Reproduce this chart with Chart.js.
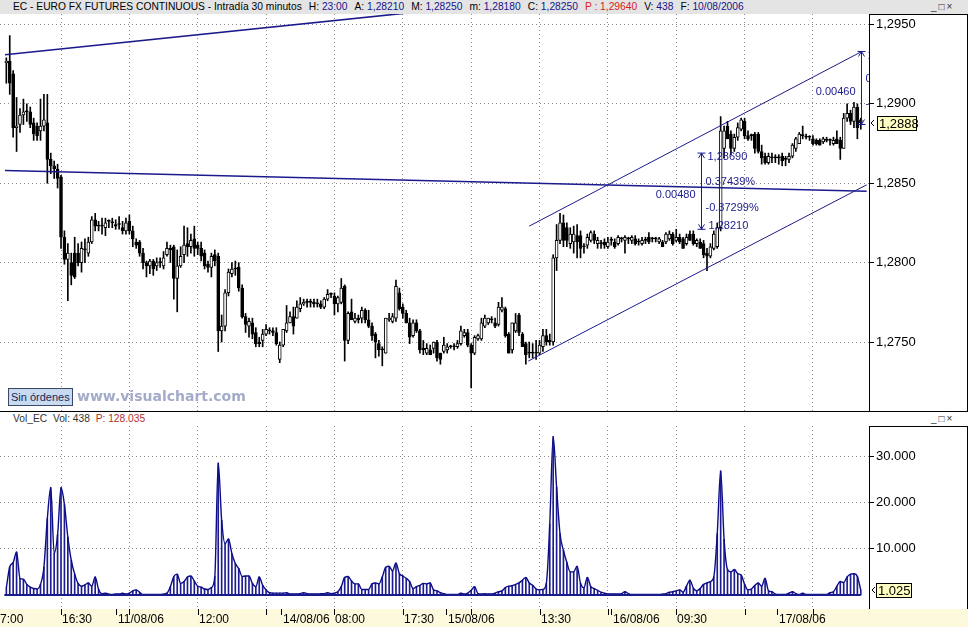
<!DOCTYPE html>
<html>
<head>
<meta charset="utf-8">
<title>EC - Euro FX Futures Continuous</title>
<script src="https://cdn.jsdelivr.net/npm/chart.js@4.4.1/dist/chart.umd.min.js"></script>
<style>
  body { margin: 0; background: #fff; font-family: "Liberation Sans", Arial, sans-serif; }
  #page { position: relative; width: 968px; height: 627px; overflow: hidden; background: #fff; }
  .abs { position: absolute; }
  #header { left: 0; top: 0; width: 955px; height: 14px; padding-left: 13px; background: #e4e4e4; font-size: 10.25px; line-height: 14px; white-space: nowrap; color: #000; }
  #header .g { margin-left: 7px; }
  #header b, #volHeader b { font-weight: normal; color: #14148c; }
  .red { color: #d41c1c; }
  .ctl { position: absolute; top: 0; font-size: 10px; color: #333; letter-spacing: 2px; }
  #priceBox { left: 0; top: 14px; width: 968px; height: 397px; }
  #volBox { left: 0; top: 426px; width: 968px; height: 201px; }
  #volHeader { left: 0; top: 412px; width: 955px; height: 14px; padding-left: 13px; font-size: 10.25px; line-height: 13px; color: #333; white-space: nowrap; }
  .line { background: #000; }
  #orders { left: 8px; top: 388px; height: 16px; padding: 0 2px; border: 1px solid #3a4868; background: #c8daf0; color: #18285a; font-size: 11px; line-height: 16px; }
  #brand { left: 77px; top: 387px; font-family: "DejaVu Sans", Verdana, sans-serif; font-weight: bold; font-size: 14px; color: #a3abc9; line-height: 18px; }
</style>
</head>
<body>
<div id="page">
  <div id="header" class="abs">
    <span>EC - EURO FX FUTURES CONTINUOUS - Intradía 30 minutos</span><span class="g">H: <b>23:00</b></span><span class="g">A: <b>1,28210</b></span><span class="g">M: <b>1,28250</b></span><span class="g">m: <b>1,28180</b></span><span class="g">C: <b>1,28250</b></span><span class="g red">P : 1,29640</span><span class="g">V: <b>438</b></span><span class="g">F: <b>10/08/2006</b></span>
    <span class="ctl" style="left:931px">_□×</span>
  </div>

  <div id="priceBox" class="abs"><canvas id="priceChart" width="968" height="397"></canvas></div>
  <div class="abs line" style="left:869px;top:14px;width:99px;height:1px"></div>
  <div class="abs line" style="left:967px;top:14px;width:1px;height:397px"></div>
  <div class="abs line" style="left:0;top:411px;width:968px;height:1px"></div>
  <div id="orders" class="abs">Sin órdenes</div>
  <div id="brand" class="abs">www.visualchart.com</div>

  <div id="volHeader" class="abs">
    <span>Vol_EC&nbsp; Vol: 438&nbsp; <span class="red" style="color:#b03030">P: 128.035</span></span>
    <span class="ctl" style="left:931px">_□×</span>
  </div>
  <div id="volBox" class="abs"><canvas id="volumeChart" width="968" height="201"></canvas></div>
  <div class="abs line" style="left:869px;top:426px;width:99px;height:1px"></div>
  <div class="abs line" style="left:967px;top:426px;width:1px;height:183px"></div>
</div>

<script>
// EC Euro FX futures, 30 minute bars, 10/08/06 - 17/08/06
const open = [
  1.2926,1.2927,1.2919,1.2885,1.2887,1.2893,1.2895,1.2895,1.2888,1.2886,
  1.2883,1.2886,1.2888,1.2865,1.2861,1.2859,1.2854,1.2816,1.2802,1.2800,
  1.2806,1.2806,1.2800,1.2808,1.2806,1.2813,1.2827,1.2823,1.2823,1.2822,
  1.2826,1.2825,1.2824,1.2824,1.2822,1.2820,1.2826,1.2820,1.2813,1.2813,
  1.2806,1.2800,1.2798,1.2801,1.2798,1.2800,1.2798,1.2805,1.2809,1.2810,
  1.2790,1.2798,1.2805,1.2812,1.2810,1.2815,1.2811,1.2809,1.2806,1.2799,
  1.2797,1.2805,1.2804,1.2757,1.2760,1.2781,1.2793,1.2796,1.2797,1.2784,
  1.2766,1.2760,1.2762,1.2756,1.2750,1.2751,1.2755,1.2757,1.2757,1.2756,
  1.2739,1.2748,1.2757,1.2762,1.2766,1.2765,1.2771,1.2774,1.2775,1.2775,
  1.2775,1.2774,1.2774,1.2772,1.2777,1.2780,1.2779,1.2774,1.2775,1.2785,
  1.2751,1.2769,1.2763,1.2765,1.2765,1.2770,1.2764,1.2760,1.2755,1.2749,
  1.2745,1.2743,1.2764,1.2763,1.2765,1.2781,1.2772,1.2768,1.2762,1.2754,
  1.2762,1.2757,1.2746,1.2743,1.2745,1.2746,1.2750,1.2743,1.2744,1.2745,
  1.2747,1.2747,1.2747,1.2749,1.2754,1.2756,1.2748,1.2743,1.2752,1.2752,
  1.2760,1.2762,1.2764,1.2762,1.2761,1.2770,1.2771,1.2755,1.2745,1.2757,
  1.2767,1.2755,1.2749,1.2743,1.2743,1.2743,1.2743,1.2747,1.2754,1.2751,
  1.2750,1.2803,1.2814,1.2825,1.2822,1.2812,1.2813,1.2817,1.2817,1.2810,
  1.2811,1.2814,1.2818,1.2812,1.2812,1.2813,1.2810,1.2814,1.2813,1.2812,
  1.2815,1.2814,1.2815,1.2814,1.2815,1.2813,1.2812,1.2814,1.2816,1.2815,
  1.2815,1.2813,1.2813,1.2813,1.2815,1.2818,1.2814,1.2816,1.2815,1.2812,
  1.2818,1.2818,1.2812,1.2813,1.2812,1.2806,1.2804,1.2809,1.2810,1.2822,
  1.2872,1.2886,1.2881,1.2872,1.2879,1.2884,1.2889,1.2880,1.2880,1.2881,
  1.2881,1.2870,1.2867,1.2863,1.2866,1.2866,1.2866,1.2867,1.2865,1.2865,
  1.2867,1.2872,1.2875,1.2880,1.2879,1.2879,1.2878,1.2877,1.2877,1.2876,
  1.2877,1.2877,1.2875,1.2878,1.2877,1.2872,1.2891,1.2894,1.2889,1.2898,
  1.2890
];
const high = [
  1.2929,1.2943,1.2921,1.2904,1.2897,1.2903,1.2900,1.2898,1.2891,1.2888,
  1.2903,1.2906,1.2906,1.2869,1.2864,1.2862,1.2855,1.2820,1.2812,1.2806,
  1.2816,1.2812,1.2813,1.2815,1.2816,1.2829,1.2831,1.2826,1.2828,1.2828,
  1.2827,1.2828,1.2827,1.2829,1.2826,1.2828,1.2830,1.2823,1.2815,1.2814,
  1.2809,1.2801,1.2802,1.2802,1.2803,1.2803,1.2807,1.2813,1.2811,1.2811,
  1.2808,1.2810,1.2823,1.2822,1.2818,1.2823,1.2813,1.2813,1.2808,1.2801,
  1.2806,1.2808,1.2806,1.2767,1.2783,1.2796,1.2800,1.2801,1.2800,1.2786,
  1.2768,1.2765,1.2765,1.2759,1.2753,1.2758,1.2761,1.2759,1.2759,1.2759,
  1.2750,1.2758,1.2773,1.2769,1.2772,1.2776,1.2778,1.2777,1.2777,1.2777,
  1.2777,1.2777,1.2776,1.2778,1.2783,1.2781,1.2781,1.2779,1.2790,1.2786,
  1.2769,1.2777,1.2768,1.2767,1.2772,1.2771,1.2770,1.2762,1.2756,1.2751,
  1.2747,1.2765,1.2768,1.2768,1.2789,1.2784,1.2774,1.2770,1.2765,1.2764,
  1.2764,1.2758,1.2751,1.2749,1.2748,1.2750,1.2751,1.2743,1.2753,1.2749,
  1.2748,1.2749,1.2751,1.2760,1.2758,1.2758,1.2749,1.2754,1.2755,1.2765,
  1.2767,1.2765,1.2766,1.2765,1.2775,1.2778,1.2772,1.2756,1.2762,1.2768,
  1.2768,1.2756,1.2750,1.2750,1.2749,1.2751,1.2751,1.2758,1.2758,1.2755,
  1.2805,1.2824,1.2831,1.2830,1.2825,1.2822,1.2823,1.2824,1.2820,1.2812,
  1.2818,1.2820,1.2820,1.2816,1.2814,1.2815,1.2816,1.2816,1.2815,1.2817,
  1.2816,1.2817,1.2816,1.2817,1.2817,1.2815,1.2816,1.2816,1.2819,1.2816,
  1.2816,1.2816,1.2814,1.2819,1.2820,1.2819,1.2821,1.2818,1.2816,1.2818,
  1.2820,1.2820,1.2815,1.2815,1.2814,1.2809,1.2812,1.2820,1.2825,1.2892,
  1.2886,1.2889,1.2883,1.2881,1.2888,1.2891,1.2891,1.2883,1.2881,1.2882,
  1.2882,1.2874,1.2869,1.2869,1.2869,1.2868,1.2868,1.2869,1.2867,1.2869,
  1.2875,1.2879,1.2882,1.2886,1.2881,1.2880,1.2880,1.2878,1.2878,1.2879,
  1.2879,1.2878,1.2879,1.2883,1.2879,1.2894,1.2900,1.2896,1.2901,1.2900,
  1.2891
];
const low = [
  1.2913,1.2906,1.2879,1.2870,1.2882,1.2887,1.2889,1.2885,1.2877,1.2877,
  1.2877,1.2883,1.2850,1.2856,1.2853,1.2847,1.2809,1.2799,1.2776,1.2786,
  1.2790,1.2798,1.2794,1.2800,1.2804,1.2812,1.2820,1.2820,1.2818,1.2817,
  1.2822,1.2822,1.2821,1.2821,1.2818,1.2818,1.2818,1.2810,1.2809,1.2804,
  1.2796,1.2791,1.2793,1.2792,1.2795,1.2797,1.2796,1.2804,1.2800,1.2777,
  1.2769,1.2797,1.2800,1.2804,1.2806,1.2804,1.2805,1.2801,1.2796,1.2794,
  1.2791,1.2798,1.2744,1.2750,1.2757,1.2779,1.2791,1.2792,1.2782,1.2765,
  1.2756,1.2753,1.2752,1.2747,1.2747,1.2747,1.2754,1.2755,1.2754,1.2748,
  1.2737,1.2747,1.2756,1.2762,1.2755,1.2765,1.2769,1.2773,1.2772,1.2772,
  1.2772,1.2772,1.2771,1.2771,1.2776,1.2778,1.2767,1.2769,1.2774,1.2738,
  1.2749,1.2764,1.2762,1.2762,1.2762,1.2762,1.2759,1.2751,1.2740,1.2741,
  1.2735,1.2743,1.2763,1.2762,1.2763,1.2770,1.2765,1.2762,1.2749,1.2753,
  1.2756,1.2743,1.2742,1.2742,1.2742,1.2743,1.2738,1.2736,1.2743,1.2743,
  1.2746,1.2745,1.2746,1.2748,1.2753,1.2747,1.2721,1.2742,1.2751,1.2751,
  1.2759,1.2761,1.2762,1.2759,1.2760,1.2769,1.2753,1.2743,1.2743,1.2756,
  1.2754,1.2747,1.2736,1.2740,1.2740,1.2739,1.2742,1.2744,1.2748,1.2748,
  1.2748,1.2795,1.2812,1.2810,1.2810,1.2809,1.2806,1.2803,1.2803,1.2806,
  1.2809,1.2813,1.2812,1.2809,1.2809,1.2809,1.2809,1.2811,1.2809,1.2811,
  1.2813,1.2806,1.2812,1.2812,1.2811,1.2811,1.2811,1.2812,1.2812,1.2813,
  1.2813,1.2812,1.2810,1.2812,1.2814,1.2811,1.2813,1.2812,1.2809,1.2811,
  1.2814,1.2811,1.2810,1.2809,1.2803,1.2795,1.2803,1.2808,1.2809,1.2820,
  1.2866,1.2878,1.2868,1.2870,1.2877,1.2883,1.2878,1.2877,1.2877,1.2869,
  1.2869,1.2862,1.2862,1.2862,1.2863,1.2863,1.2862,1.2861,1.2861,1.2863,
  1.2866,1.2870,1.2875,1.2878,1.2878,1.2877,1.2874,1.2874,1.2874,1.2875,
  1.2876,1.2874,1.2874,1.2875,1.2865,1.2872,1.2889,1.2887,1.2885,1.2878,
  1.2884
];
const close = [
  1.2927,1.2913,1.2885,1.2886,1.2893,1.2895,1.2895,1.2887,1.2881,1.2880,
  1.2886,1.2890,1.2865,1.2861,1.2859,1.2853,1.2816,1.2802,1.2806,1.2792,
  1.2791,1.2800,1.2809,1.2808,1.2813,1.2827,1.2823,1.2823,1.2823,1.2825,
  1.2826,1.2825,1.2823,1.2824,1.2820,1.2825,1.2820,1.2815,1.2811,1.2806,
  1.2800,1.2798,1.2801,1.2796,1.2800,1.2800,1.2803,1.2809,1.2808,1.2790,
  1.2798,1.2804,1.2811,1.2810,1.2814,1.2809,1.2809,1.2804,1.2798,1.2797,
  1.2804,1.2801,1.2757,1.2760,1.2781,1.2794,1.2796,1.2796,1.2784,1.2766,
  1.2761,1.2763,1.2755,1.2749,1.2749,1.2755,1.2758,1.2757,1.2756,1.2749,
  1.2748,1.2758,1.2762,1.2766,1.2760,1.2772,1.2774,1.2775,1.2775,1.2775,
  1.2774,1.2774,1.2772,1.2777,1.2780,1.2780,1.2774,1.2778,1.2784,1.2751,
  1.2768,1.2764,1.2765,1.2764,1.2770,1.2764,1.2760,1.2754,1.2750,1.2745,
  1.2745,1.2765,1.2765,1.2766,1.2785,1.2771,1.2768,1.2762,1.2753,1.2762,
  1.2757,1.2745,1.2745,1.2746,1.2742,1.2750,1.2740,1.2739,1.2748,1.2747,
  1.2747,1.2747,1.2749,1.2757,1.2756,1.2748,1.2743,1.2753,1.2754,1.2762,
  1.2765,1.2765,1.2764,1.2760,1.2772,1.2772,1.2754,1.2743,1.2762,1.2762,
  1.2756,1.2747,1.2742,1.2743,1.2743,1.2743,1.2748,1.2754,1.2750,1.2750,
  1.2803,1.2814,1.2825,1.2814,1.2814,1.2818,1.2818,1.2813,1.2809,1.2810,
  1.2816,1.2819,1.2814,1.2814,1.2812,1.2811,1.2813,1.2814,1.2810,1.2816,
  1.2815,1.2816,1.2815,1.2816,1.2812,1.2813,1.2814,1.2814,1.2813,1.2815,
  1.2815,1.2815,1.2810,1.2818,1.2818,1.2812,1.2816,1.2813,1.2809,1.2816,
  1.2814,1.2812,1.2814,1.2809,1.2805,1.2804,1.2810,1.2818,1.2822,1.2883,
  1.2883,1.2878,1.2872,1.2879,1.2885,1.2890,1.2880,1.2878,1.2880,1.2872,
  1.2870,1.2866,1.2863,1.2867,1.2866,1.2866,1.2866,1.2864,1.2865,1.2867,
  1.2874,1.2878,1.2881,1.2880,1.2879,1.2879,1.2875,1.2875,1.2874,1.2878,
  1.2877,1.2877,1.2877,1.2875,1.2872,1.2891,1.2894,1.2889,1.2898,1.2885,
  1.2888
];
const volume = [
  1500,6100,7000,9300,3600,3400,2300,1700,1400,1300,
  2300,6000,16500,23200,9000,13000,23200,19500,12500,7500,
  4500,2500,1900,2200,2600,1900,3900,1200,300,400,
  200,100,200,200,400,200,400,900,1100,600,
  100,100,100,100,100,100,200,400,1800,4000,
  4500,2500,2900,3900,4100,3000,1900,1700,1300,1200,
  1600,4000,28500,16100,11100,12100,8900,6800,5700,4000,
  4100,4100,2500,1800,3900,2100,1100,500,400,400,
  400,400,500,200,200,200,300,500,300,200,
  200,200,300,300,500,300,400,700,1800,3800,
  4000,3000,2400,2400,1200,1200,1200,2400,2600,2400,
  3900,6000,6200,5200,6900,4600,4100,3600,2900,1400,
  1800,2100,2500,2400,2600,1100,900,500,300,100,
  100,100,100,400,200,400,1000,1800,300,200,
  300,200,200,400,700,900,1600,1900,2000,2300,
  2600,3200,3800,2600,2100,1300,1100,1200,2500,15300,
  34200,23200,13200,9600,7000,5000,5000,6200,2500,1600,
  3800,1800,1400,1000,600,400,200,200,200,200,
  300,700,300,100,100,100,100,100,100,100,
  100,100,200,300,600,700,900,1100,600,1900,
  3200,1500,900,1400,2300,2600,2900,3900,13200,26800,
  12000,5500,5000,5500,4600,4300,2300,1100,1300,2100,
  2600,1900,3600,900,700,200,100,100,100,400,
  700,300,100,400,100,100,100,100,100,100,
  100,500,700,1900,2900,2700,3900,4500,4600,4000,
  1025
];

// axis ticks and labels
const gridBars = [16, 36, 56, 76, 96, 116, 136, 156, 176, 196, 216, 236];
const priceTicks = [1.275, 1.28, 1.285, 1.29, 1.295];
const volumeTicks = [10000, 20000, 30000];
const timeLabels = ['16:30', '12:00', '08:00', '17:30', '13:30', '09:30'];
const timeBars = [16, 56, 96, 116, 156, 196];
const dayLabels = ['11/08/06', '14/08/06', '15/08/06', '16/08/06', '17/08/06'];
const dayBars = [32, 80.5, 128.5, 177, 225.5];
const firstLabel = '7:00';

// drawn trend lines (bar index, price)
const trendTop = [{x: -0.4, y: 1.2931}, {x: 116.1, y: 1.2957}];
const trendFlat = [{x: -0.4, y: 1.2858}, {x: 251.7, y: 1.2845}];
const channelUpper = [{x: 153, y: 1.2823}, {x: 250.3, y: 1.2933}];
const channelLower = [{x: 152.7, y: 1.2738}, {x: 251.7, y: 1.2849}];

// measuring tool
const measureBar = [203.3, 250];
const measureFrom = [1.2821, 1.2887];
const measureTo = [1.2869, 1.2933];

const xMin = -1.85, xMax = 252.4;
const navy = '#1a1a8c';
const gridColor = '#8c8c8c';
const fontFamily = "'Liberation Sans', Arial, sans-serif";
Chart.defaults.font.family = fontFamily;

const last = close.length - 1;

// price overlay: measuring arrows and last price tag
const priceOverlay = {
  id: 'priceOverlay',
  afterDatasetsDraw(chart) {
    const {ctx, chartArea: a, scales: {x, y}} = chart;
    ctx.save();
    ctx.beginPath();
    ctx.rect(a.left, a.top, a.right - a.left, a.bottom - a.top);
    ctx.clip();
    ctx.strokeStyle = navy;
    ctx.fillStyle = navy;
    ctx.lineWidth = 1;
    ctx.font = '11px ' + fontFamily;
    ctx.textBaseline = 'middle';
    measureBar.forEach((bar, k) => {
      const px = Math.round(x.getPixelForValue(bar)) + 0.5;
      const yTop = y.getPixelForValue(measureTo[k]);
      const yBot = y.getPixelForValue(measureFrom[k]);
      const span = yBot - yTop;
      ctx.beginPath();
      ctx.moveTo(px, yTop); ctx.lineTo(px, yBot);
      ctx.moveTo(px - 4, yTop); ctx.lineTo(px + 4, yTop);
      ctx.moveTo(px - 3, yTop + 5); ctx.lineTo(px, yTop); ctx.lineTo(px + 3, yTop + 5);
      ctx.moveTo(px - 4, yBot); ctx.lineTo(px + 4, yBot);
      ctx.moveTo(px - 3, yBot - 5); ctx.lineTo(px, yBot); ctx.lineTo(px + 3, yBot - 5);
      ctx.stroke();
      const diff = measureTo[k] - measureFrom[k];
      ctx.textAlign = 'left';
      ctx.fillText(measureTo[k].toFixed(5).replace('.', ','), px + 6, yTop + 4);
      ctx.fillText((diff / measureFrom[k] * 100).toFixed(5) + '%', px + 4, yTop + span * 0.38);
      ctx.fillText((-diff / measureTo[k] * 100).toFixed(5) + '%', px + 4, yTop + span * 0.72);
      ctx.fillText(measureFrom[k].toFixed(5).replace('.', ','), px + 7, yBot - 3);
      ctx.textAlign = 'right';
      ctx.fillText(diff.toFixed(5), px - 6, yTop + span * 0.55);
    });
    ctx.restore();

    // last price tag
    const yl = Math.round(y.getPixelForValue(close[last]));
    ctx.save();
    ctx.fillStyle = '#ffffc4';
    ctx.fillRect(a.right + 8, yl - 7, 40, 15);
    ctx.strokeStyle = '#000';
    ctx.lineWidth = 1;
    ctx.strokeRect(a.right + 8.5, yl - 6.5, 39, 14);
    ctx.beginPath();
    ctx.moveTo(a.right + 5, yl - 3); ctx.lineTo(a.right + 2, yl); ctx.lineTo(a.right + 5, yl + 3);
    ctx.stroke();
    ctx.fillStyle = '#000';
    ctx.font = '13px ' + fontFamily;
    ctx.textBaseline = 'middle';
    ctx.fillText(close[last].toFixed(4).replace('.', ','), a.right + 10, yl + 1);
    ctx.restore();
  }
};

// volume overlay: zero line, time axis band, last volume tag
const volumeOverlay = {
  id: 'volumeOverlay',
  afterDraw(chart) {
    const {ctx, chartArea: a, scales: {x, y}} = chart;
    ctx.save();
    ctx.strokeStyle = navy;
    ctx.lineWidth = 2;
    const y0 = y.getPixelForValue(0);
    ctx.beginPath();
    ctx.moveTo(x.getPixelForValue(0) - 2, y0);
    ctx.lineTo(x.getPixelForValue(last), y0);
    ctx.stroke();

    const top = a.bottom;
    ctx.fillStyle = '#fcf9dc';
    ctx.fillRect(0, top, chart.width, chart.height - top);
    ctx.strokeStyle = '#000';
    ctx.lineWidth = 1;
    ctx.beginPath();
    gridBars.concat(dayBars).forEach(v => {
      const px = Math.round(x.getPixelForValue(v)) + 0.5;
      ctx.moveTo(px, top);
      ctx.lineTo(px, top + 6);
    });
    ctx.stroke();
    ctx.fillStyle = '#000';
    ctx.font = '12px ' + fontFamily;
    ctx.textBaseline = 'middle';
    ctx.textAlign = 'left';
    const ty = top + 11;
    ctx.fillText(firstLabel, a.left, ty);
    timeLabels.forEach((t, k) => ctx.fillText(t, Math.round(x.getPixelForValue(timeBars[k])) + 1, ty));
    dayLabels.forEach((t, k) => ctx.fillText(t, Math.round(x.getPixelForValue(dayBars[k])) + 2, ty));

    // last volume tag
    const yl = Math.round(y.getPixelForValue(volume[last]));
    ctx.font = '13px ' + fontFamily;
    ctx.fillStyle = '#ffffc4';
    ctx.fillRect(a.right + 7, yl - 7, 36, 15);
    ctx.strokeRect(a.right + 7.5, yl - 6.5, 35, 14);
    ctx.beginPath();
    ctx.moveTo(a.right + 6, yl - 3); ctx.lineTo(a.right + 3, yl); ctx.lineTo(a.right + 6, yl + 3);
    ctx.stroke();
    ctx.fillStyle = '#000';
    ctx.fillText((volume[last] / 1000).toFixed(3), a.right + 9, yl + 1);
    ctx.restore();
  }
};

const trendSet = (pts, w) => ({
  type: 'line', data: pts, borderColor: navy, borderWidth: w,
  pointRadius: 0, order: 0
});

const xAxis = (height) => ({
  type: 'linear', min: xMin, max: xMax, offset: false,
  grid: {color: gridColor, drawTicks: false, offset: false},
  border: {display: false, dash: [1, 3]},
  ticks: {display: false},
  afterBuildTicks: s => { s.ticks = gridBars.map(v => ({value: v})); },
  afterFit: s => { s.height = height; s.paddingLeft = 0; s.paddingRight = 0; }
});

const yAxis = (min, max, ticks, size, fmt) => ({
  position: 'right',
  min: min,
  max: max,
  grid: {color: gridColor, tickColor: '#000', tickLength: 5},
  border: {display: true, color: '#000', dash: [1, 3]},
  ticks: {color: '#000', padding: 2, font: {size: size}, callback: fmt},
  afterBuildTicks: s => { s.ticks = ticks.map(v => ({value: v})); },
  afterFit: s => { s.width = 99; s.paddingTop = 0; s.paddingBottom = 0; }
});

// Price chart
new Chart(document.getElementById('priceChart').getContext('2d'), {
  type: 'bar',
  data: {
    datasets: [
      {
        data: low.map((l, i) => ({x: i, y: [l, high[i]]})),
        backgroundColor: '#000',
        barThickness: 1,
        grouped: false,
        order: 3,
      },
      {
        data: open.map((o, i) => ({x: i, y: [o, close[i]]})),
        backgroundColor: open.map((o, i) => (close[i] > o ? '#fff' : '#000')),
        borderColor: '#000',
        borderWidth: 1,
        borderSkipped: false,
        barThickness: 3,
        minBarLength: 1,
        grouped: false,
        order: 2,
      },
      trendSet(trendTop, 1.5),
      trendSet(trendFlat, 1.5),
      trendSet(channelUpper, 1),
      trendSet(channelLower, 1),
    ],
  },
  options: {
    responsive: false,
    animation: false,
    devicePixelRatio: 1,
    layout: {padding: 0},
    plugins: {legend: {display: false}, tooltip: {enabled: false}},
    scales: {
      x: xAxis(0),
      y: yAxis(1.270654, 1.295661, priceTicks, 13, v => v.toFixed(4).replace('.', ',')),
    },
  },
  plugins: [priceOverlay],
});

// Volume chart
new Chart(document.getElementById('volumeChart').getContext('2d'), {
  type: 'bar',
  data: {
    datasets: [
      {
        type: 'line',
        data: volume.map((v, i) => ({x: i, y: v})),
        borderColor: '#0c0c88',
        borderWidth: 1.4,
        pointRadius: 0,
        cubicInterpolationMode: 'monotone',
        order: 1,
      },
      {
        data: volume.map((v, i) => ({x: i, y: v})),
        backgroundColor: '#1c1c90',
        barThickness: 1,
        grouped: false,
        order: 2,
      },
    ],
  },
  options: {
    responsive: false,
    animation: false,
    devicePixelRatio: 1,
    layout: {padding: 0},
    plugins: {legend: {display: false}, tooltip: {enabled: false}},
    scales: {
      x: xAxis(18),
      y: yAxis(-3022, 36475, volumeTicks, 13, v => (v / 1000).toFixed(3)),
    },
  },
  plugins: [volumeOverlay],
});
</script>
</body>
</html>
